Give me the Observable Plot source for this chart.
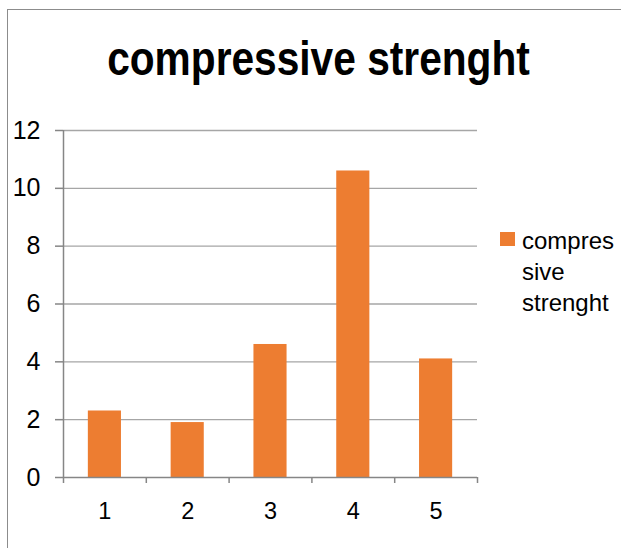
<!DOCTYPE html>
<html><head><meta charset="utf-8">
<script src="https://cdn.jsdelivr.net/npm/d3@7"></script>
<script src="https://cdn.jsdelivr.net/npm/@observablehq/plot@0.6"></script>
<style>
body{margin:0;background:#fff;}
#wrap{position:relative;width:621px;height:548px;overflow:hidden;background:#fff;}
#frame{position:absolute;left:7px;top:9px;width:800px;height:800px;border-left:1px solid #8c8c8c;border-top:1px solid #8c8c8c;box-sizing:border-box;}
#chart{position:absolute;left:0;top:0;}
#title{position:absolute;left:0;width:637px;top:34px;text-align:center;font-family:"Liberation Sans",Arial,sans-serif;font-weight:bold;font-size:49px;line-height:49px;color:#000;white-space:nowrap;transform:scaleX(0.83);transform-origin:318.5px 0;}
#legend{position:absolute;left:500px;top:225px;font-family:"Liberation Sans",Arial,sans-serif;font-size:24px;line-height:31px;color:#000;}
#legend .sw{position:absolute;left:0;top:7px;width:15px;height:14px;background:#ed7d31;}
#legend .tx{position:absolute;left:22px;top:0;white-space:nowrap;}
</style>
</head><body>
<div id="wrap">
  <div id="frame"></div>
  <div id="chart"></div>
  <div id="title"></div>
  <div id="legend"><div class="sw"></div><div class="tx"></div></div>
</div>
<script>
const titleText = "compressive strenght";
const seriesName = "compressive strenght";
const legendLines = ["compres", "sive", "strenght"];
const categories = [1, 2, 3, 4, 5];
const values = [2.3, 1.9, 4.6, 10.6, 4.1];
const yTicks = [0, 2, 4, 6, 8, 10, 12];

const data = categories.map((c, i) => ({c, v: values[i], series: seriesName}));
const boundaries = categories.map(c => c - 0.5).concat([categories[categories.length - 1] + 0.5]);
const x0 = boundaries[0], x1 = boundaries[boundaries.length - 1];

const chart = Plot.plot({
  width: 621,
  height: 548,
  marginLeft: 63,
  marginRight: 144,
  marginTop: 130,
  marginBottom: 71,
  style: {fontFamily: "'Liberation Sans', Arial, sans-serif", background: "transparent", color: "#000"},
  x: {domain: [x0, x1], axis: null},
  y: {domain: [0, 12], axis: null},
  marks: [
    Plot.ruleY(yTicks.filter(d => d > 0), {x1: x0, x2: x1, stroke: "#a6a6a6", strokeWidth: 1.3}),
    Plot.rectY(data, {x1: d => d.c - 0.2, x2: d => d.c + 0.2, y: "v", fill: "#ed7d31"}),
    Plot.ruleX([x0], {y1: 0, y2: 12, stroke: "#868686", strokeWidth: 1.5}),
    Plot.ruleY([0], {x1: x0, x2: x1, stroke: "#868686", strokeWidth: 1.5}),
    Plot.axisY({ticks: yTicks, label: null, tickFormat: d => String(d), tickSize: 8, tickPadding: 15, fontSize: 25, stroke: "#868686", strokeWidth: 1.5, fill: "#000"}),
    Plot.axisX({ticks: boundaries, label: null, tickSize: 6, tickFormat: () => "", stroke: "#868686", strokeWidth: 1.5}),
    Plot.axisX({ticks: categories, label: null, tickFormat: d => String(d), tickSize: 0, tickPadding: 25, fontSize: 23.5, fill: "#000"})
  ]
});
document.getElementById("chart").appendChild(chart);
document.getElementById("title").textContent = titleText;
document.querySelector("#legend .tx").innerHTML = legendLines.join("<br>");
</script>
</body></html>
